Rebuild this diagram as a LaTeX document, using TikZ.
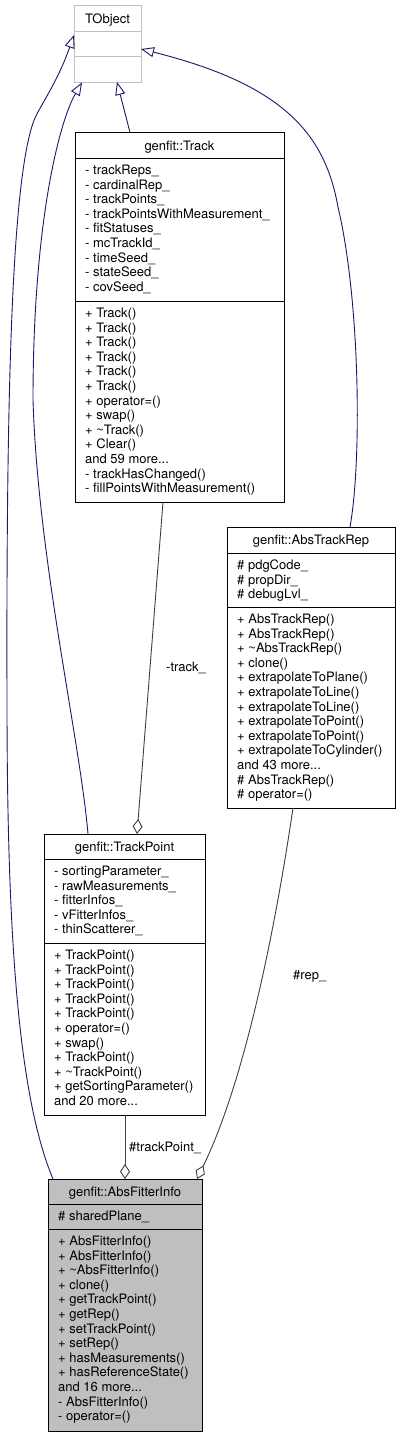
\documentclass[tikz,border=0pt]{standalone}
\usepackage{fontspec}
\setmainfont{TeX Gyre Heros}
\usetikzlibrary{arrows.meta,calc}
\definecolor{edgeblue}{HTML}{191970}
\definecolor{edgegray}{HTML}{404040}
\definecolor{boxgray}{HTML}{BFBFBF}
\newcommand\fsz{\fontsize{13pt}{14.6pt}\selectfont}
\newcommand\moredots{...}
\newcommand\txtlines[4]{% name prefix, x, y of first baseline, list
  \foreach \t [count=\i from 0] in {#4} {\node[lbl] (#1\i) at (#2, #3+\i*14.6) {\t};}
}
\begin{document}
\begin{tikzpicture}[x=1pt,y=-1pt,
  box/.style={draw=black,line width=1pt,fill=white,inner sep=0,outer sep=0,anchor=north west,rectangle},
  lbl/.style={anchor=base west,inner sep=0,font=\fsz},
  ttl/.style={anchor=base,inner sep=0,font=\fsz},
  inh/.style={draw=edgeblue,line width=0.9pt,-{Triangle[length=13pt,width=10pt,fill=white]}},
  agg/.style={draw=edgegray,line width=0.9pt,-{Diamond[length=15pt,width=10pt,fill=white]}},
  sep/.style={draw=black,line width=1pt},
]
\useasboundingbox (0,0) rectangle (401,1437);
\fill[white] (0,0) rectangle (401,1437);

% ---------- TObject
\node[box,draw=boxgray,minimum width=67pt,minimum height=76pt] (tobj) at (74,6) {};
\draw[sep,draw=boxgray] ($(tobj.north west)+(0,26)$) -- ($(tobj.north east)+(0,26)$);
\draw[sep,draw=boxgray] ($(tobj.north west)+(0,51)$) -- ($(tobj.north east)+(0,51)$);
\node[ttl] (tobjT) at (107.5,23.5) {TObject};

% ---------- genfit::Track
\node[box,minimum width=209pt,minimum height=369.5pt] (track) at (75,132.5) {};
\draw[sep] ($(track.north west)+(0,25.5)$) -- ($(track.north east)+(0,25.5)$);
\draw[sep] ($(track.north west)+(0,168.5)$) -- ($(track.north east)+(0,168.5)$);
\node[ttl] (trackT) at (179.5,150) {genfit::Track};
\txtlines{tra}{85}{174.5}{- trackReps\_,- cardinalRep\_,- trackPoints\_,- trackPointsWithMeasurement\_,- fitStatuses\_,- mcTrackId\_,- timeSeed\_,- stateSeed\_,- covSeed\_}
\txtlines{trm}{85}{317.5}{+ Track(),+ Track(),+ Track(),+ Track(),+ Track(),+ Track(),+ operator=(),+ swap(),+ \textasciitilde{}Track(),+ Clear(),and 59 more\moredots,- trackHasChanged(),- fillPointsWithMeasurement()}

% ---------- genfit::AbsTrackRep
\node[box,minimum width=168pt,minimum height=281pt] (rep) at (227,527) {};
\draw[sep] ($(rep.north west)+(0,26)$) -- ($(rep.north east)+(0,26)$);
\draw[sep] ($(rep.north west)+(0,80)$) -- ($(rep.north east)+(0,80)$);
\node[ttl] (repT) at (311,544.5) {genfit::AbsTrackRep};
\txtlines{rpa}{237}{569.5}{\# pdgCode\_,\# propDir\_,\# debugLvl\_}
\txtlines{rpm}{237}{623.5}{+ AbsTrackRep(),+ AbsTrackRep(),+ \textasciitilde{}AbsTrackRep(),+ clone(),+ extrapolateToPlane(),+ extrapolateToLine(),+ extrapolateToLine(),+ extrapolateToPoint(),+ extrapolateToPoint(),+ extrapolateToCylinder(),and 43 more\moredots,\# AbsTrackRep(),\# operator=()}

% ---------- genfit::TrackPoint
\node[box,minimum width=161pt,minimum height=281pt] (tp) at (44,834) {};
\draw[sep] ($(tp.north west)+(0,25)$) -- ($(tp.north east)+(0,25)$);
\draw[sep] ($(tp.north west)+(0,109)$) -- ($(tp.north east)+(0,109)$);
\node[ttl] (tpT) at (124.5,851.5) {genfit::TrackPoint};
\txtlines{tpa}{54}{875.5}{- sortingParameter\_,- rawMeasurements\_,- fitterInfos\_,- vFitterInfos\_,- thinScatterer\_}
\txtlines{tpm}{54}{959.5}{+ TrackPoint(),+ TrackPoint(),+ TrackPoint(),+ TrackPoint(),+ TrackPoint(),+ operator=(),+ swap(),+ TrackPoint(),+ \textasciitilde{}TrackPoint(),+ getSortingParameter(),and 20 more\moredots}

% ---------- genfit::AbsFitterInfo
\node[box,fill=boxgray,minimum width=154pt,minimum height=252pt] (afi) at (48,1179) {};
\draw[sep] ($(afi.north west)+(0,25)$) -- ($(afi.north east)+(0,25)$);
\draw[sep] ($(afi.north west)+(0,50)$) -- ($(afi.north east)+(0,50)$);
\node[ttl] (afiT) at (125,1196.5) {genfit::AbsFitterInfo};
\txtlines{afa}{58}{1220.5}{\# sharedPlane\_}
\txtlines{afm}{58}{1245.5}{+ AbsFitterInfo(),+ AbsFitterInfo(),+ \textasciitilde{}AbsFitterInfo(),+ clone(),+ getTrackPoint(),+ getRep(),+ setTrackPoint(),+ setRep(),+ hasMeasurements(),+ hasReferenceState(),and 16 more\moredots,- AbsFitterInfo(),- operator=()}

% ---------- inheritance edges
\draw[inh] ($(track.north west)+(55,0)$) -- ($(tobj.south west)+(43,0)$);
\draw[inh] ($(tp.north west)+(44,0)$) .. controls (80,740) and (38,560) .. (33,400)
  .. controls (33,220) and (60,120) .. ($(tobj.south west)+(8,0.5)$);
\draw[inh] ($(afi.north west)+(5,0)$) .. controls (20,1100) and (7,950) .. (7,700)
  .. controls (6,350) and (14,180) .. (33,123)
  .. controls (38,108) and (56,86) .. ($(tobj.west)+(0,-9)$);
\draw[inh] ($(rep.north west)+(123,0)$) .. controls (362,460) and (360,300) .. (338,207)
  .. controls (325,135) and (285,85) .. ($(tobj.east)+(0,5)$);

% ---------- aggregation edges
\draw[agg] ($(track.south west)+(88,0)$) -- ($(tp.north west)+(93,0)$);
\node[lbl] (lblTrack) at (166,671) {-track\_};
\draw[agg] ($(tp.south west)+(81,0)$) -- ($(afi.north west)+(77,0)$);
\node[lbl] (lblTP) at (129,1151) {\#trackPoint\_};
\draw[agg] ($(rep.south west)+(66,0)$) .. controls (275,930) and (245,1080) .. ($(afi.north east)+(-5,0)$);
\node[lbl] (lblRep) at (293,979.5) {\#rep\_};
\end{tikzpicture}
\end{document}
